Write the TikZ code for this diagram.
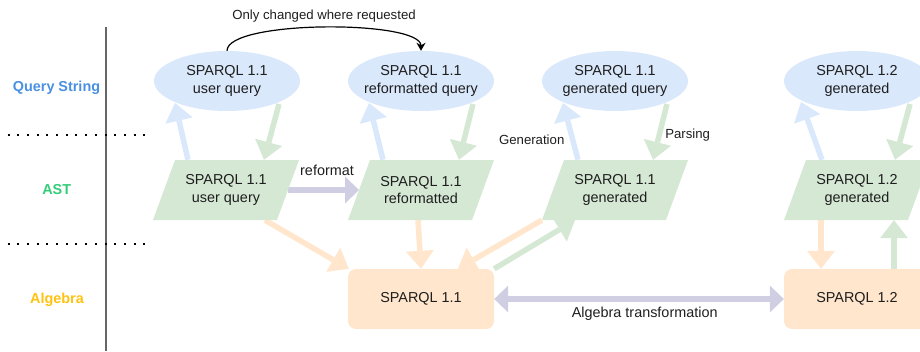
\documentclass[tikz,border=0pt]{standalone}
\usepackage{fontspec}
\setmainfont{Liberation Sans}
\usetikzlibrary{shapes.geometric,arrows.meta,calc,backgrounds}
\definecolor{eblue}{HTML}{DAE8FC}
\definecolor{pgreen}{HTML}{D5E8D4}
\definecolor{rorange}{HTML}{FFE6CC}
\definecolor{apurple}{HTML}{D0CEE2}
\definecolor{qcol}{HTML}{4A90E2}
\definecolor{astcol}{HTML}{33CC77}
\definecolor{algcol}{HTML}{FFC20E}
\definecolor{vline}{HTML}{666666}
\definecolor{txt}{HTML}{1E1E1E}
\tikzset{
  big/.style={font=\fontsize{14.4}{17.5}\selectfont, text=txt},
  small/.style={font=\fontsize{13.2}{16}\selectfont, text=txt},
  rowlbl/.style={font=\fontsize{14.4}{17.5}\selectfont\bfseries, anchor=base},
  qnode/.style={ellipse, fill=eblue, minimum width=146pt, minimum height=60pt, inner sep=0pt},
  qtext/.style={big, align=center, inner sep=0pt},
  pnode/.style={rectangle, minimum width=146pt, minimum height=60pt, inner sep=0pt, align=center, big},
  anode/.style={rectangle, rounded corners=8pt, fill=rorange, minimum width=146pt, minimum height=60pt, inner sep=0pt, align=center, big},
  fat/.style={line width=5.5pt, -{Triangle[width=28pt,length=18pt,line width=0pt]}},
  ptip/.tip={Triangle[width=27pt,length=14pt,line width=0pt]},
  fatp/.style={line width=5.5pt, draw=apurple},
  dotline/.style={line width=2pt, dash pattern=on 2pt off 7.7pt},
}
\newcommand\paranode[3]{%
  \fill[pgreen] ($(#2)+(-73,30)$) -- ($(#2)+(51,30)$) -- ($(#2)+(73,-30)$) -- ($(#2)+(-51,-30)$) -- cycle;
  \node[pnode] (#1) at (#2) {#3};}
\begin{document}
\begin{tikzpicture}[x=1pt,y=-1pt]
\useasboundingbox (0,0) rectangle (920,351);
\clip (0,0) rectangle (920,351);

% row separators
\draw[vline, line width=1.5pt] (106,27) -- (106,351);
\draw[dotline] (7.5,135) -- (147,135);
\draw[dotline] (7.5,244) -- (147,244);

% row labels
\node[rowlbl, text=qcol] (lq) at (56.5,91.7) {Query String};
\node[rowlbl, text=astcol] (last) at (56.7,194.3) {AST};
\node[rowlbl, text=algcol] (lalg) at (57,303.3) {Algebra};

% query strings
\node[qnode] (E1) at (227,81) {};
\node[qtext] (E1t) at (E1) {SPARQL 1.1\\user query};
\node[qnode] (E2) at (421,81) {};
\node[qtext] (E2t) at (E2) {SPARQL 1.1\\reformatted query};
\node[qnode] (E3) at (615,81) {};
\node[qtext] (E3t) at (E3) {SPARQL 1.1\\generated query};
\node[qnode] (E4) at (857,81) {};
\node[qtext] (E4t) at (E4) {SPARQL 1.2\\generated};

% ASTs
\paranode{P1}{226,190}{SPARQL 1.1\\user query}
\paranode{P2}{421,190}{SPARQL 1.1\\reformatted}
\paranode{P3}{615,190}{SPARQL 1.1\\generated}
\paranode{P4}{857,190}{SPARQL 1.2\\generated}

% algebra
\node[anode] (R1) at (421,299) {SPARQL 1.1};
\node[anode] (R2) at (857,299) {SPARQL 1.2};

% labels
\node[small, anchor=base] (lonly) at (324,19.5) {Only changed where requested};
\node[big, anchor=base] (lref) at (327,175) {reformat};
\node[small, anchor=base] (lgen) at (531.7,144.3) {Generation};
\node[small, anchor=base] (lpar) at (687.7,138.8) {Parsing};
\node[big, anchor=base] (lalgt) at (644.7,317.6) {Algebra transformation};

\begin{scope}[on background layer]
  % query string <-> AST
  \draw[fat, draw=eblue] ($(P1.north)+(-38,0)$) -- ($(E1)+(-52,22)$);
  \draw[fat, draw=pgreen] ($(E1)+(52,23)$) -- ($(P1.north)+(38,0)$);
  \draw[fat, draw=eblue] ($(P2.north)+(-38,0)$) -- ($(E2)+(-52,22)$);
  \draw[fat, draw=pgreen] ($(E2)+(52,23)$) -- ($(P2.north)+(38,0)$);
  \draw[fat, draw=eblue] ($(P3.north)+(-37,0)$) -- ($(E3)+(-52,22)$);
  \draw[fat, draw=pgreen] ($(E3)+(52,23)$) -- ($(P3.north)+(38,0)$);
  \draw[fat, draw=eblue] ($(P4.north)+(-35,0)$) -- ($(E4)+(-56,21)$);
  \draw[fat, draw=pgreen] ($(E4)+(53,23)$) -- ($(P4.north)+(38,0)$);
  % reformat
  \draw[fatp, -ptip] ($(P1)+(62,0)$) -- ($(P2)+(-62,0)$);
  % AST <-> algebra
  \draw[fat, draw=rorange] ($(P1.south)+(39,0)$) -- ($(R1.north west)+(1,0)$);
  \draw[fat, draw=rorange] ($(P2.south)+(-3,0)$) -- (R1.north);
  \draw[fat, draw=rorange] (P3.south west) -- ($(R1.north)+(37,0)$);
  \draw[fat, draw=pgreen] (R1.north east) -- ($(P3.south)+(-40,0)$);
  \draw[fat, draw=rorange] ($(P4.south)+(-36,0)$) -- ($(R2.north)+(-36,0)$);
  \draw[fat, draw=pgreen] ($(R2.north)+(37,0)$) -- ($(P4.south)+(37,0)$);
  % algebra transformation
  \draw[fatp, ptip-ptip] (R1.east) -- (R2.west);
\end{scope}

% only changed where requested
\draw[line width=1.2pt, -{Stealth[length=8pt,width=9pt,inset=2.5pt]}] (E1.north) .. controls +(0,-31) and +(0,-31) .. (E2.north);
\end{tikzpicture}
\end{document}
